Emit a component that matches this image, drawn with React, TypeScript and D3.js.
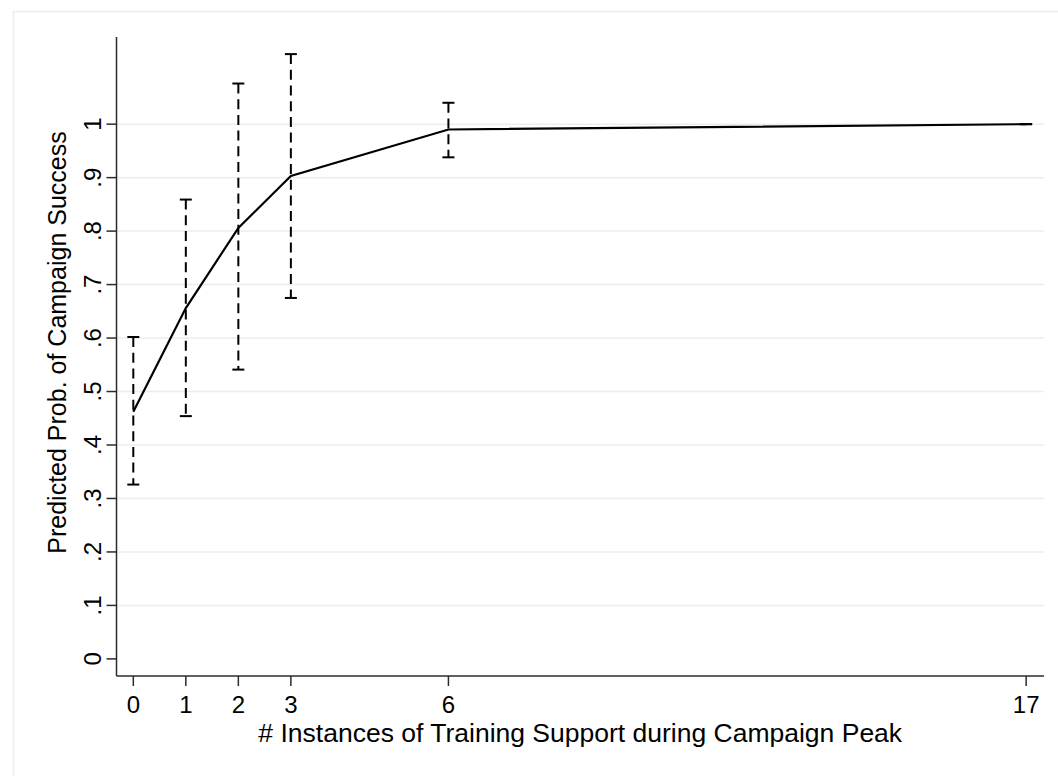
// Predicted probability of campaign success with 95% CI caps (Stata-style plot)
import * as d3 from 'd3';

const WIDTH = 1058;
const HEIGHT = 776;

const instances = [0, 1, 2, 3, 6, 17];
const predicted = [0.462, 0.656, 0.806, 0.903, 0.99, 1.0];
const lowerCI = [0.326, 0.454, 0.541, 0.675, 0.938, 1.0];
const upperCI = [0.602, 0.859, 1.076, 1.131, 1.04, 1.0];

const xTicks = [0, 1, 2, 3, 6, 17];
const yTicks = [0, 0.1, 0.2, 0.3, 0.4, 0.5, 0.6, 0.7, 0.8, 0.9, 1];
const yTickLabels = ['0', '.1', '.2', '.3', '.4', '.5', '.6', '.7', '.8', '.9', '1'];

const xTitle = '# Instances of Training Support during Campaign Peak';
const yTitle = 'Predicted Prob. of Campaign Success';

const FONT = '"Liberation Sans", Arial, Helvetica, sans-serif';
const AXIS = '#2b2b2b';
const GRID = '#e7eff0';

export default function App() {
  const x = d3.scaleLinear().domain([-0.32, 17.34]).range([116.5, 1044]);
  const y = d3.scaleLinear().domain([-0.032, 1.163]).range([676, 37]);

  const points = instances.map((v, i) => ({
    x: v,
    p: predicted[i],
    lo: lowerCI[i],
    hi: upperCI[i],
  }));

  const line = d3
    .line<{ x: number; p: number }>()
    .x((d) => x(d.x))
    .y((d) => y(d.p));

  const [x0, x1] = x.range();
  const [yBottom, yTop] = y.range();
  const cap = 6;

  return (
    <svg
      width={WIDTH}
      height={HEIGHT}
      style={{ position: 'absolute', left: 0, top: 0, background: '#fff' }}
      fontFamily={FONT}
    >
      {/* graph region border */}
      <rect x={13.5} y={11.5} width={1100} height={800} fill="none" stroke={GRID} strokeWidth={1.5} />

      {/* gridlines */}
      {yTicks.slice(1).map((t) => (
        <line key={`g${t}`} x1={x0} x2={x1} y1={y(t)} y2={y(t)} stroke={GRID} strokeWidth={1.5} />
      ))}

      {/* CI caps */}
      {points.map((d) => (
        <g key={`ci${d.x}`} stroke="#000" strokeWidth={2}>
          <line x1={x(d.x)} x2={x(d.x)} y1={y(d.hi)} y2={y(d.lo)} strokeDasharray="10 5.7" />
          <line x1={x(d.x) - cap} x2={x(d.x) + cap} y1={y(d.hi)} y2={y(d.hi)} />
          <line x1={x(d.x) - cap} x2={x(d.x) + cap} y1={y(d.lo)} y2={y(d.lo)} />
        </g>
      ))}

      {/* predicted line */}
      <path d={line(points) ?? ''} fill="none" stroke="#000" strokeWidth={2.2} />

      {/* y axis */}
      <line x1={x0} x2={x0} y1={yTop} y2={yBottom} stroke={AXIS} strokeWidth={1.5} />
      {yTicks.map((t, i) => (
        <g key={`yt${t}`}>
          <line x1={x0 - 10} x2={x0} y1={y(t)} y2={y(t)} stroke={AXIS} strokeWidth={1.5} />
          <text
            transform={`translate(${x0 - 16},${y(t)}) rotate(-90)`}
            textAnchor="middle"
            fontSize={24}
            fill="#000"
          >
            {yTickLabels[i]}
          </text>
        </g>
      ))}
      <text
        transform={`translate(66,${(yTop + yBottom) / 2 - 14}) rotate(-90)`}
        textAnchor="middle"
        fontSize={25}
        fill="#000"
      >
        {yTitle}
      </text>

      {/* x axis */}
      <line x1={x0} x2={x1} y1={yBottom} y2={yBottom} stroke={AXIS} strokeWidth={1.5} />
      {xTicks.map((t) => (
        <g key={`xt${t}`}>
          <line x1={x(t)} x2={x(t)} y1={yBottom} y2={yBottom + 10} stroke={AXIS} strokeWidth={1.5} />
          <text x={x(t)} y={712.5} textAnchor="middle" fontSize={24} fill="#000">
            {t}
          </text>
        </g>
      ))}
      <text x={(x0 + x1) / 2} y={742} textAnchor="middle" fontSize={26.5} fill="#000">
        {xTitle}
      </text>
    </svg>
  );
}
